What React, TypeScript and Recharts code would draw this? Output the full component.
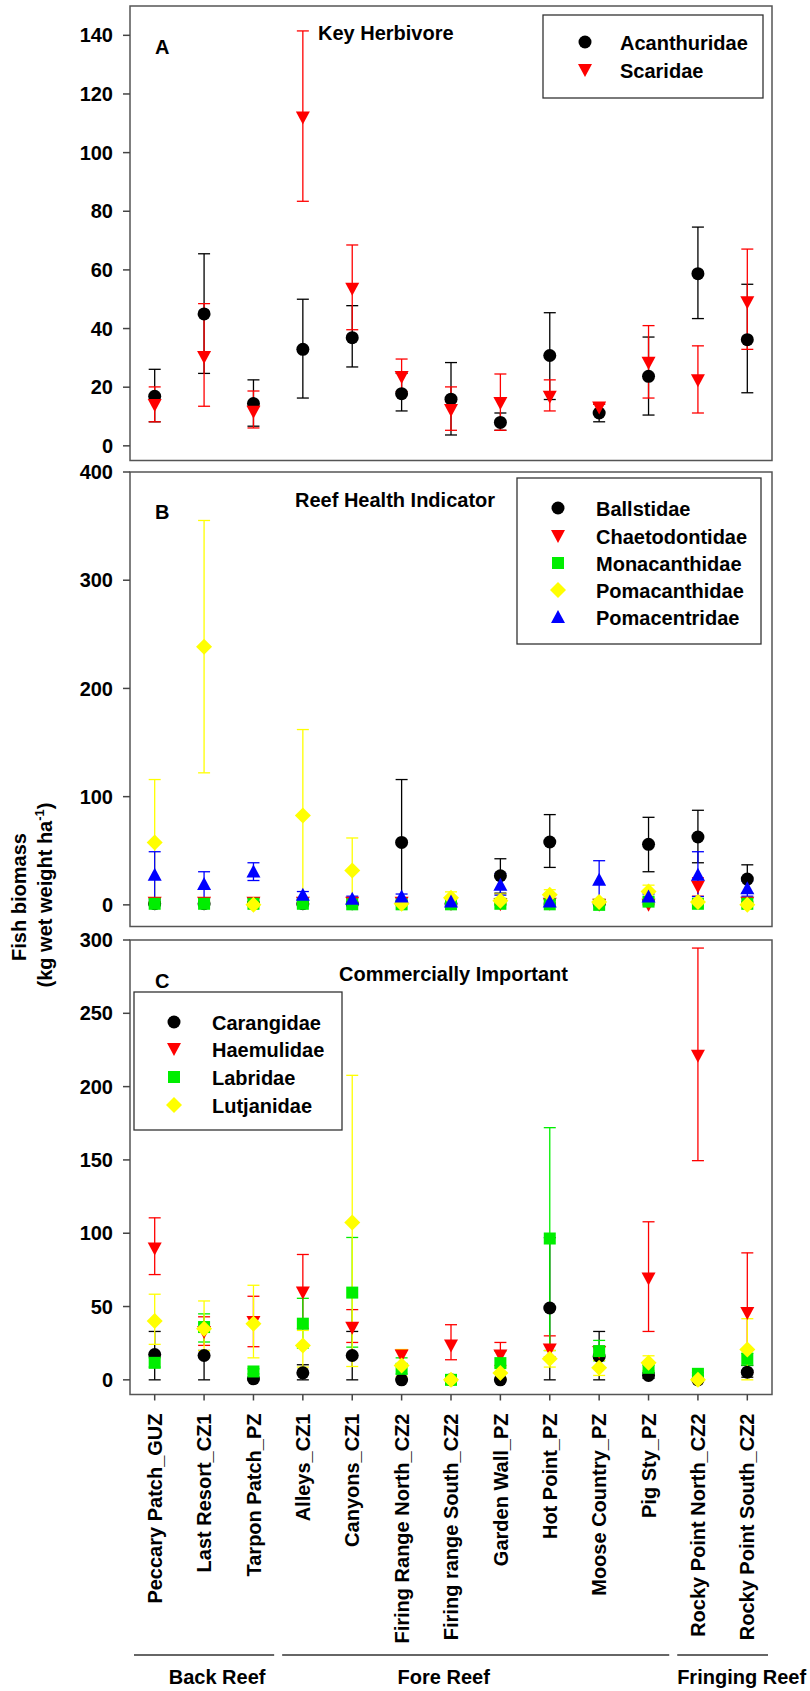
import React from 'react';
import { ScatterChart, Scatter, XAxis, YAxis, ErrorBar, ReferenceArea } from 'recharts';

// sites along the x axis (shared by all three panels)
const sites = [
  'Peccary Patch_GUZ', 'Last Resort_CZ1', 'Tarpon Patch_PZ', 'Alleys_CZ1', 'Canyons_CZ1',
  'Firing Range North_CZ2', 'Firing range South_CZ2', 'Garden Wall_PZ', 'Hot Point_PZ',
  'Moose Country_PZ', 'Pig Sty_PZ', 'Rocky Point North_CZ2', 'Rocky Point South_CZ2',
];

const reefGroups = ['Back Reef', 'Fore Reef', 'Fringing Reef'];
const reefFirst = [0, 3, 11];
const reefLast = [2, 10, 12];

// A - key herbivores (mean, lower, upper)
const acanthMean = [16.9, 45, 14.4, 32.9, 36.9, 17.8, 15.9, 8.0, 30.8, 11.2, 23.7, 58.7, 36.2];
const acanthLo = [8.2, 24.7, 6.7, 16.3, 26.9, 11.9, 3.7, 5.3, 15.8, 8.2, 10.5, 43.4, 18.1];
const acanthHi = [26.1, 65.5, 22.5, 50, 47.8, 24.7, 28.4, 11.2, 45.4, 14.2, 37.1, 74.6, 55.1];
const scarMean = [13.9, 30.3, 11.6, 112, 53.6, 23.5, 12.2, 14.6, 16.7, 13.1, 28.3, 22.4, 49.0];
const scarLo = [8.2, 13.5, 6.1, 83.4, 39.6, 18.5, 5.3, 5.3, 11.9, 11.2, 16.3, 11.2, 32.9];
const scarHi = [20.1, 48.5, 18.7, 141.5, 68.5, 29.6, 20.1, 24.5, 22.5, 14.2, 41, 34.1, 67.1];

// B - reef health indicators
const balMean = [1, 1, 1, 1, 1, 57.7, 1, 26.9, 58.1, 1, 55.9, 62.7, 23.8];
const balLo = [0, 0, 0, 0, 0, 0, 0, 10.8, 34.6, 0, 30.6, 38.9, 10.8];
const balHi = [2, 2, 2, 2, 2, 115.8, 2, 42.6, 83.4, 2, 80.9, 87.4, 37];
const chaeMean = [2, 2, 2, 2, 2, 2, 1, 0.5, 1, 0, 0, 17, 2];
const chaeLo = [1, 1, 1, 1, 1, 1, 0, 0, 0, 0, 0, 8, 1];
const chaeHi = [3, 3, 3, 3, 3, 3, 2, 1, 2, 1, 1, 25, 3];
const monaMean = [1, 1, 1, 1, 0.5, 0.5, 0.5, 1, 0.5, 0, 3, 1, 1];
const monaLo = [0, 0, 0, 0, 0, 0, 0, 0, 0, 0, 2, 0, 0];
const monaHi = [2, 2, 2, 2, 1, 1, 1, 2, 1, 1, 4, 2, 2];
const pomaMean = [57.7, 238.5, 0, 82.5, 31.8, 1, 6.5, 3.7, 9.3, 2.7, 12.3, 2.7, 0];
const pomaLo = [2, 122, 0, 5, 3, 0, 2, 1, 4, 1, 7, 1, 0];
const pomaHi = [115.8, 355.2, 2, 162, 61.8, 2, 12, 10, 14, 5, 18.2, 5, 2];
const pomcMean = [27.8, 19.2, 30.9, 9.3, 5.6, 7.7, 3, 18.5, 3, 23.2, 7.7, 27.8, 15.4];
const pomcLo = [4.6, 6.2, 22.5, 5, 2, 4, 1, 9, 1, 4.6, 4, 7.7, 8];
const pomcHi = [49.1, 30.6, 38.9, 12.3, 8, 10, 5, 29, 5, 40.8, 10, 49.1, 22];

// C - commercially important
const caraMean = [17.3, 16.6, 0.7, 4.8, 16.6, 0, 0, 0, 49, 16, 3, 0, 5.2];
const caraLo = [0, 0, 0, 0, 0, 0, 0, 0, 0, 0, 1, 0, 1.8];
const caraHi = [33, 20, 1.5, 10.3, 33, 1, 1, 1, 97, 33, 5, 1, 9.8];
const haemMean = [89.6, 32.6, 39.4, 59.5, 35.6, 16.6, 23.5, 16.6, 20.7, 19, 69.1, 221.1, 45.6];
const haemLo = [71.8, 23.5, 22.6, 35, 25.5, 10, 13.7, 9.8, 15.5, 15, 33, 149.5, 5];
const haemHi = [110.5, 43, 57, 85.5, 47.9, 20.5, 37.6, 25.5, 30, 23, 107.8, 294.5, 86.6];
const labrMean = [11.6, 36, 5.7, 38.3, 59.5, 7.5, 0, 11.4, 96.4, 19.6, 8.2, 4.1, 14.4];
const labrLo = [8.7, 25.8, 4, 21.7, 22.3, 4, 0, 5, 20, 13, 6, 3, 10];
const labrHi = [15, 45, 7.5, 55.6, 97.1, 15, 1, 19.6, 172, 26.9, 10, 5, 18];
const lutjMean = [40.1, 34.9, 38.3, 23.5, 107.4, 9.8, 0, 4.6, 14.4, 8.2, 11.6, 0, 20.7];
const lutjLo = [24.2, 20, 15, 8.7, 9.1, 2.3, 0, 1, 8.7, 3, 6.4, 0, 0];
const lutjHi = [58.4, 53.8, 64.5, 33.7, 207.7, 20.7, 1, 8.7, 20, 13.2, 16.4, 1, 41.7];

const FONT = '"Liberation Sans", Arial, Helvetica, sans-serif';
const PLOT_L = 130;
const PLOT_R = 772;
const PAD_TOP = 16;

type Kind = 'circle' | 'down' | 'square' | 'diamond' | 'up';

interface Series {
  name: string;
  kind: Kind;
  color: string;
  mean: number[];
  lo: number[];
  hi: number[];
}

const panelA: Series[] = [
  { name: 'Acanthuridae', kind: 'circle', color: '#000000', mean: acanthMean, lo: acanthLo, hi: acanthHi },
  { name: 'Scaridae', kind: 'down', color: '#ff0000', mean: scarMean, lo: scarLo, hi: scarHi },
];
const panelB: Series[] = [
  { name: 'Ballstidae', kind: 'circle', color: '#000000', mean: balMean, lo: balLo, hi: balHi },
  { name: 'Chaetodontidae', kind: 'down', color: '#ff0000', mean: chaeMean, lo: chaeLo, hi: chaeHi },
  { name: 'Monacanthidae', kind: 'square', color: '#00ee00', mean: monaMean, lo: monaLo, hi: monaHi },
  { name: 'Pomacanthidae', kind: 'diamond', color: '#ffff00', mean: pomaMean, lo: pomaLo, hi: pomaHi },
  { name: 'Pomacentridae', kind: 'up', color: '#0000ff', mean: pomcMean, lo: pomcLo, hi: pomcHi },
];
const panelC: Series[] = [
  { name: 'Carangidae', kind: 'circle', color: '#000000', mean: caraMean, lo: caraLo, hi: caraHi },
  { name: 'Haemulidae', kind: 'down', color: '#ff0000', mean: haemMean, lo: haemLo, hi: haemHi },
  { name: 'Labridae', kind: 'square', color: '#00ee00', mean: labrMean, lo: labrLo, hi: labrHi },
  { name: 'Lutjanidae', kind: 'diamond', color: '#ffff00', mean: lutjMean, lo: lutjLo, hi: lutjHi },
];

const rows = (s: Series) =>
  sites.map((site, i) => ({ site, v: s.mean[i], err: [s.mean[i] - s.lo[i], s.hi[i] - s.mean[i]] }));

function Marker({ kind, x, y, color }: { kind: Kind; x: number; y: number; color: string }) {
  if (x == null || y == null) return null;
  switch (kind) {
    case 'circle':
      return <circle cx={x} cy={y} r={6.5} fill={color} />;
    case 'down':
      return <path d={`M${x - 7},${y - 6}L${x + 7},${y - 6}L${x},${y + 7}Z`} fill={color} />;
    case 'up':
      return <path d={`M${x - 7},${y + 6}L${x + 7},${y + 6}L${x},${y - 7}Z`} fill={color} />;
    case 'square':
      return <rect x={x - 6} y={y - 6} width={12} height={12} fill={color} />;
    case 'diamond':
      return <path d={`M${x},${y - 8}L${x + 8},${y}L${x},${y + 8}L${x - 8},${y}Z`} fill={color} />;
  }
  return null;
}

const SiteTick = (props: any) => {
  const { x, y, payload } = props;
  return (
    <text
      x={x}
      y={y}
      transform={`rotate(-90 ${x} ${y})`}
      textAnchor="end"
      dy="0.36em"
      fill="#000"
      fontSize={20}
      fontWeight={700}
      fontFamily={FONT}
    >
      {payload.value}
    </text>
  );
};

interface PanelProps {
  series: Series[];
  plotTop: number;
  axisHeight: number;
  domain: [number, number];
  ticks: number[];
  labels?: boolean;
}

function Panel({ series, plotTop, axisHeight, domain, ticks, labels }: PanelProps) {
  const plotH = 454.5;
  return (
    <div style={{ position: 'absolute', left: 0, top: plotTop - PAD_TOP }}>
      <ScatterChart
        width={810}
        height={PAD_TOP + plotH + axisHeight}
        margin={{ top: PAD_TOP, right: 810 - PLOT_R, bottom: 0, left: 0 }}
      >
        <XAxis
          type="category"
          dataKey="site"
          allowDuplicatedCategory={false}
          interval={0}
          height={axisHeight}
          axisLine={false}
          tickSize={6}
          tickMargin={labels ? 13 : 2}
          tickLine={{ stroke: '#444', strokeWidth: 1.5 }}
          tick={labels ? <SiteTick /> : false}
          tickFormatter={() => ''}
        />
        <YAxis
          type="number"
          dataKey="v"
          width={PLOT_L}
          domain={domain}
          ticks={ticks}
          interval={0}
          allowDataOverflow
          axisLine={false}
          tickSize={7}
          tickMargin={10}
          tickLine={{ stroke: '#444', strokeWidth: 1.5 }}
          tick={{ fill: '#000', fontSize: 20, fontWeight: 700, fontFamily: FONT }}
        />
        {series.map((s) => (
          <Scatter
            key={s.name}
            name={s.name}
            data={rows(s)}
            dataKey="v"
            fill={s.color}
            isAnimationActive={false}
            shape={(p: any) => <Marker kind={s.kind} x={p.cx} y={p.cy} color={s.color} />}
          >
            <ErrorBar dataKey="err" direction="y" width={6} stroke={s.color} strokeWidth={1.3} isAnimationActive={false} />
          </Scatter>
        ))}
        <ReferenceArea
          y1={domain[0]}
          y2={domain[1]}
          fill="none"
          stroke="#555"
          strokeWidth={1.5}
          ifOverflow="visible"
        />
      </ScatterChart>
    </div>
  );
}

function LegendBox({ series, x, y, w, h, markerX, textX, rowY }: {
  series: Series[]; x: number; y: number; w: number; h: number; markerX: number; textX: number; rowY: number[];
}) {
  return (
    <g>
      <rect x={x} y={y} width={w} height={h} fill="#fff" stroke="#333" strokeWidth={1.3} />
      {series.map((s, i) => (
        <g key={s.name}>
          <Marker kind={s.kind} x={markerX} y={rowY[i]} color={s.color} />
          <text x={textX} y={rowY[i] + 8}>{s.name}</text>
        </g>
      ))}
    </g>
  );
}

export default function App() {
  const band = (PLOT_R - PLOT_L) / sites.length;
  const labelShift = [13, -32, 19];
  return (
    <div style={{ position: 'absolute', left: 0, top: 0, width: 810, height: 1691, background: '#fff', overflow: 'hidden' }}>
      <Panel series={panelA} plotTop={6} axisHeight={10} domain={[-5, 150]} ticks={[0, 20, 40, 60, 80, 100, 120, 140]} />
      <Panel series={panelB} plotTop={472} axisHeight={10} domain={[-20, 400]} ticks={[0, 100, 200, 300, 400]} />
      <Panel series={panelC} plotTop={940} axisHeight={297} domain={[-10, 300]} ticks={[0, 50, 100, 150, 200, 250, 300]} labels />

      <svg
        width={810}
        height={1691}
        style={{ position: 'absolute', left: 0, top: 0, pointerEvents: 'none' }}
        fontFamily={FONT}
        fontWeight={700}
        fontSize={20}
        fill="#000"
      >
        {/* panel letters and titles */}
        <text x={155} y={54}>A</text>
        <text x={318} y={40}>Key Herbivore</text>
        <text x={155} y={519}>B</text>
        <text x={295} y={507}>Reef Health Indicator</text>
        <text x={155} y={988}>C</text>
        <text x={339} y={981}>Commercially Important</text>

        <LegendBox series={panelA} x={543} y={15} w={220} h={83} markerX={585} textX={620} rowY={[42, 70]} />
        <LegendBox series={panelB} x={517} y={478} w={244} h={166} markerX={558} textX={596} rowY={[508, 536, 563, 590, 617]} />
        <LegendBox series={panelC} x={134} y={992} w={208} h={138} markerX={174} textX={212} rowY={[1022, 1049, 1077, 1105]} />

        {/* y axis title */}
        <text x={19} y={897} transform="rotate(-90 19 897)" textAnchor="middle" dy="0.35em">Fish biomass</text>
        <text x={45} y={895} transform="rotate(-90 45 895)" textAnchor="middle" dy="0.35em">
          (kg wet weight ha<tspan fontSize={13} dy={-8}>-1</tspan><tspan dy={8}>)</tspan>
        </text>

        {/* reef zone brackets */}
        {reefGroups.map((g, i) => {
          const x1 = PLOT_L + reefFirst[i] * band + 4;
          const x2 = PLOT_L + (reefLast[i] + 1) * band - 4;
          return (
            <g key={g}>
              <line x1={x1} x2={x2} y1={1655} y2={1655} stroke="#333" strokeWidth={1.3} />
              <text x={(x1 + x2) / 2 + labelShift[i]} y={1684} textAnchor="middle">{g}</text>
            </g>
          );
        })}
      </svg>
    </div>
  );
}
